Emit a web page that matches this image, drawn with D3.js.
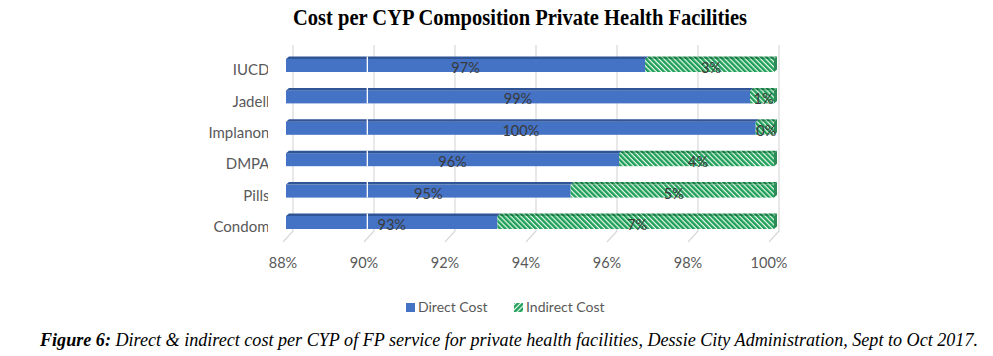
<!DOCTYPE html>
<html>
<head>
<meta charset="utf-8">
<script src="https://cdn.jsdelivr.net/npm/d3@7"></script>
<style>
  html, body { margin: 0; padding: 0; background: #fff; }
  svg { display: block; }
</style>
</head>
<body>
<svg id="chart" width="993" height="356"></svg>
<script>
// ---- data ----
const categories = ["IUCD", "Jadell", "Implanon", "DMPA", "Pills", "Condom"];
const directCost = [96.83, 99.41, 99.55, 96.19, 95.0, 93.2];
const indirectCost = [3.17, 0.59, 0.45, 3.81, 5.0, 6.8];
const tickValues = [88, 90, 92, 94, 96, 98, 100];
const seriesNames = ["Direct Cost", "Indirect Cost"];
const titleText = "Cost per CYP Composition Private Health Facilities";
const captionBold = "Figure 6:";
const captionText = " Direct & indirect cost per CYP of FP service for private health facilities, Dessie City Administration, Sept to Oct 2017.";

const svg = d3.select("#chart");
const defs = svg.append("defs");

// colours
const blueFront = "#4472c4", blueTop = "#2f5597";
const green = "#1d9f57", greenDark = "#157a42", greenLight = "#eef9f2";

function stripePattern(id, angle, stripe, bg) {
  const p = defs.append("pattern")
    .attr("id", id).attr("patternUnits", "userSpaceOnUse")
    .attr("width", 3.6).attr("height", 3.6)
    .attr("patternTransform", `rotate(${angle})`);
  p.append("rect").attr("width", 3.6).attr("height", 3.6).attr("fill", bg);
  p.append("rect").attr("width", 2.4).attr("height", 3.6).attr("fill", stripe);
}
stripePattern("hatchFront", -45, green, greenLight);
stripePattern("hatchTop", -45, greenDark, "#8fd1aa");
stripePattern("hatchLegend", 45, green, greenLight);

// scales (3-D chart: back wall, bar plane, front floor edge)
const xBar = d3.scaleLinear().domain([88, 100]).range([286, 774]);
const xBack = d3.scaleLinear().domain([88, 100]).range([293, 779]);
const xFront = d3.scaleLinear().domain([88, 100]).range([283, 769]);
const y = d3.scalePoint().domain(categories).range([65.5, 222.5]);
const frontH = 13, topH = 2.5, depth = 3;

// gridlines
svg.append("g").selectAll("path").data(tickValues).join("path")
  .attr("d", d => `M${xBack(d)},45 V231 L${xFront(d)},242`)
  .attr("fill", "none").attr("stroke", "#d9d9d9").attr("stroke-width", 1.2);

// tick labels
svg.append("g").selectAll("text").data(tickValues).join("text")
  .attr("x", d => xFront(d)).attr("y", 263).attr("dy", "0.35em")
  .attr("text-anchor", "middle")
  .attr("font-family", "Lato, 'Open Sans', sans-serif").attr("font-size", 14.5)
  .attr("fill", "#595959")
  .text(d => d + "%");

// category labels (clipped on the right like the original)
defs.append("clipPath").attr("id", "catClip")
  .append("rect").attr("x", 0).attr("y", 40).attr("width", 268).attr("height", 210);
svg.append("g").attr("clip-path", "url(#catClip)")
  .selectAll("text").data(categories).join("text")
  .attr("x", 269.5).attr("y", d => y(d) + 4.5).attr("dy", "0.35em")
  .attr("text-anchor", "end")
  .attr("font-family", "Lato, 'Open Sans', sans-serif").attr("font-size", 15)
  .attr("fill", "#595959")
  .text(d => d);

// bars
const rows = categories.map((c, i) => ({ c, direct: directCost[i], indirect: indirectCost[i] }));
const bars = svg.append("g").selectAll("g").data(rows).join("g");

function topFace(x0, x1, cy) {
  const yt = cy - frontH / 2;
  return `M${x0},${yt} L${x0 + depth},${yt - topH} L${x1 + depth},${yt - topH} L${x1},${yt} Z`;
}

// direct segment
bars.append("rect")
  .attr("x", xBar(88)).attr("y", d => y(d.c) - frontH / 2)
  .attr("width", d => xBar(d.direct) - xBar(88)).attr("height", frontH)
  .attr("fill", blueFront);
bars.append("path")
  .attr("d", d => topFace(xBar(88), xBar(d.direct), y(d.c)))
  .attr("fill", blueTop);

// indirect segment
bars.append("rect")
  .attr("x", d => xBar(d.direct)).attr("y", d => y(d.c) - frontH / 2)
  .attr("width", d => xBar(d.direct + d.indirect) - xBar(d.direct)).attr("height", frontH)
  .attr("fill", "url(#hatchFront)");
bars.append("path")
  .attr("d", d => topFace(xBar(d.direct), xBar(d.direct + d.indirect), y(d.c)))
  .attr("fill", "url(#hatchTop)");
// right side face
bars.append("path")
  .attr("d", d => {
    const x1 = xBar(d.direct + d.indirect), cy = y(d.c);
    return `M${x1},${cy - frontH / 2} L${x1 + depth},${cy - frontH / 2 - topH} L${x1 + depth},${cy + frontH / 2 - topH} L${x1},${cy + frontH / 2} Z`;
  })
  .attr("fill", "#2e8b57");

// white gap line through bars at 90%
bars.append("line")
  .attr("x1", xBar(90)).attr("x2", xBar(90))
  .attr("y1", d => y(d.c) - frontH / 2 - topH).attr("y2", d => y(d.c) + frontH / 2)
  .attr("stroke", "#fff").attr("stroke-width", 1.3);

// data labels
const lblFont = "Lato, 'Open Sans', sans-serif";
bars.append("text")
  .attr("x", d => (xBar(88) + xBar(d.direct)) / 2).attr("y", d => y(d.c) + 2.5).attr("dy", "0.35em")
  .attr("text-anchor", "middle").attr("font-family", lblFont).attr("font-size", 14.5)
  .attr("fill", "#3a3a3a")
  .text(d => Math.round(d.direct) + "%");
bars.append("text")
  .attr("x", d => (xBar(d.direct) + xBar(d.direct + d.indirect) + depth) / 2).attr("y", d => y(d.c) + 2.5).attr("dy", "0.35em")
  .attr("text-anchor", "middle").attr("font-family", lblFont).attr("font-size", 14.5)
  .attr("fill", "#3a3a3a")
  .text(d => Math.round(d.indirect) + "%");

// legend
const legend = svg.append("g");
const legendItems = [
  { name: seriesNames[0], x: 406, fill: blueFront },
  { name: seriesNames[1], x: 514, fill: "url(#hatchLegend)" }
];
legend.selectAll("rect").data(legendItems).join("rect")
  .attr("x", d => d.x).attr("y", 303).attr("width", 9).attr("height", 9)
  .attr("fill", d => d.fill);
legend.selectAll("text").data(legendItems).join("text")
  .attr("x", d => d.x + 12).attr("y", 307.5).attr("dy", "0.35em")
  .attr("font-family", lblFont).attr("font-size", 14).attr("fill", "#595959")
  .text(d => d.name);

// title
svg.append("text")
  .attr("x", 520).attr("y", 25).attr("text-anchor", "middle")
  .attr("font-family", "'Liberation Serif', 'Times New Roman', serif")
  .attr("font-weight", "bold").attr("font-size", 23)
  .attr("textLength", 454).attr("lengthAdjust", "spacingAndGlyphs")
  .attr("fill", "#000")
  .text(titleText);

// caption
const cap = svg.append("text")
  .attr("x", 40).attr("y", 346)
  .attr("font-family", "'Liberation Serif', 'Times New Roman', serif")
  .attr("font-style", "italic").attr("font-size", 18)
  .attr("textLength", 938).attr("lengthAdjust", "spacingAndGlyphs")
  .attr("fill", "#000");
cap.append("tspan").attr("font-weight", "bold").text(captionBold);
cap.append("tspan").text(captionText);
</script>
</body>
</html>
